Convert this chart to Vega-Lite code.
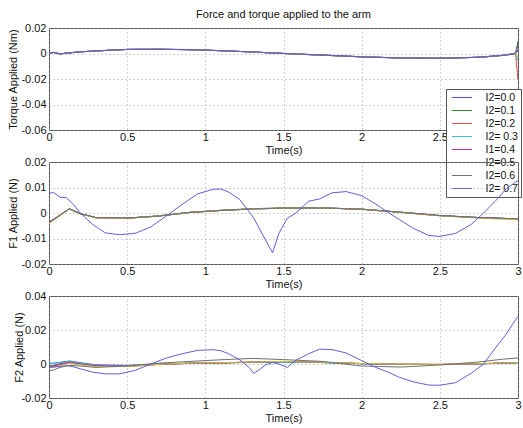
{
"$schema": "https://vega.github.io/schema/vega-lite/v6.json",
"padding": {"left": 6, "top": 8, "right": 4, "bottom": 0},
"background": "white",
"data": {"values": [
{"t":0,"s":"I2=0.0","tq":0,"f1":-0.004,"f2":0.0005},
{"t":0.03,"s":"I2=0.0","tq":0.0008,"f1":-0.0027,"f2":0.0005},
{"t":0.07,"s":"I2=0.0","tq":-0.0003,"f1":-0.001,"f2":0.001},
{"t":0.13,"s":"I2=0.0","tq":0.0005,"f1":0.0016,"f2":0.0018},
{"t":0.2,"s":"I2=0.0","tq":0.0013,"f1":-0.0003,"f2":0.0008},
{"t":0.3,"s":"I2=0.0","tq":0.002,"f1":-0.0018,"f2":-0.0005},
{"t":0.5,"s":"I2=0.0","tq":0.0032,"f1":-0.002,"f2":-0.0008},
{"t":0.7,"s":"I2=0.0","tq":0.0033,"f1":-0.0012,"f2":0},
{"t":0.9,"s":"I2=0.0","tq":0.003,"f1":0.0002,"f2":0.0005},
{"t":1.1,"s":"I2=0.0","tq":0.0022,"f1":0.001,"f2":0.0007},
{"t":1.3,"s":"I2=0.0","tq":0.0012,"f1":0.0016,"f2":0.0009},
{"t":1.5,"s":"I2=0.0","tq":0,"f1":0.0019,"f2":0.0012},
{"t":1.75,"s":"I2=0.0","tq":-0.0013,"f1":0.002,"f2":0.0008},
{"t":2.0,"s":"I2=0.0","tq":-0.0026,"f1":0.0015,"f2":0.0002},
{"t":2.25,"s":"I2=0.0","tq":-0.0035,"f1":0.0003,"f2":-0.0002},
{"t":2.5,"s":"I2=0.0","tq":-0.0037,"f1":-0.001,"f2":-0.0003},
{"t":2.75,"s":"I2=0.0","tq":-0.003,"f1":-0.0018,"f2":0.0001},
{"t":2.9,"s":"I2=0.0","tq":-0.0015,"f1":-0.0021,"f2":0.0005},
{"t":2.985,"s":"I2=0.0","tq":0,"f1":-0.0023,"f2":0.0007},
{"t":3.0,"s":"I2=0.0","tq":0.003,"f1":-0.0024,"f2":0.0008},

{"t":0,"s":"I2=0.1","tq":0,"f1":-0.0038,"f2":-0.001},
{"t":0.03,"s":"I2=0.1","tq":0.0008,"f1":-0.0026,"f2":-0.0008},
{"t":0.07,"s":"I2=0.1","tq":-0.0003,"f1":-0.0009,"f2":0.0002},
{"t":0.13,"s":"I2=0.1","tq":0.0005,"f1":0.0017,"f2":0.0012},
{"t":0.2,"s":"I2=0.1","tq":0.0013,"f1":-0.0002,"f2":0.0003},
{"t":0.3,"s":"I2=0.1","tq":0.002,"f1":-0.0018,"f2":-0.001},
{"t":0.5,"s":"I2=0.1","tq":0.0032,"f1":-0.002,"f2":-0.0012},
{"t":0.7,"s":"I2=0.1","tq":0.0033,"f1":-0.0011,"f2":-0.0002},
{"t":0.9,"s":"I2=0.1","tq":0.003,"f1":0.0003,"f2":0.0004},
{"t":1.1,"s":"I2=0.1","tq":0.0022,"f1":0.0011,"f2":0.0006},
{"t":1.3,"s":"I2=0.1","tq":0.0012,"f1":0.0017,"f2":0.001},
{"t":1.5,"s":"I2=0.1","tq":0,"f1":0.002,"f2":0.0013},
{"t":1.75,"s":"I2=0.1","tq":-0.0013,"f1":0.002,"f2":0.0009},
{"t":2.0,"s":"I2=0.1","tq":-0.0026,"f1":0.0015,"f2":0.0002},
{"t":2.25,"s":"I2=0.1","tq":-0.0035,"f1":0.0003,"f2":-0.0002},
{"t":2.5,"s":"I2=0.1","tq":-0.0037,"f1":-0.001,"f2":-0.0003},
{"t":2.75,"s":"I2=0.1","tq":-0.003,"f1":-0.0018,"f2":0.0001},
{"t":2.9,"s":"I2=0.1","tq":-0.0015,"f1":-0.0021,"f2":0.0005},
{"t":2.985,"s":"I2=0.1","tq":0.0002,"f1":-0.0023,"f2":0.0007},
{"t":3.0,"s":"I2=0.1","tq":0.01,"f1":-0.0024,"f2":0.0008},

{"t":0,"s":"I2=0.2","tq":0,"f1":-0.0036,"f2":-0.002},
{"t":0.03,"s":"I2=0.2","tq":0.0009,"f1":-0.0025,"f2":-0.0015},
{"t":0.07,"s":"I2=0.2","tq":-0.0002,"f1":-0.0008,"f2":-0.0005},
{"t":0.13,"s":"I2=0.2","tq":0.0005,"f1":0.0016,"f2":0.0008},
{"t":0.2,"s":"I2=0.2","tq":0.0013,"f1":-0.0003,"f2":0},
{"t":0.3,"s":"I2=0.2","tq":0.002,"f1":-0.0019,"f2":-0.0012},
{"t":0.5,"s":"I2=0.2","tq":0.0032,"f1":-0.0021,"f2":-0.0015},
{"t":0.7,"s":"I2=0.2","tq":0.0033,"f1":-0.0012,"f2":-0.0003},
{"t":0.9,"s":"I2=0.2","tq":0.003,"f1":0.0002,"f2":0.0003},
{"t":1.1,"s":"I2=0.2","tq":0.0022,"f1":0.001,"f2":0.0006},
{"t":1.3,"s":"I2=0.2","tq":0.0012,"f1":0.0016,"f2":0.0012},
{"t":1.5,"s":"I2=0.2","tq":0,"f1":0.0019,"f2":0.0015},
{"t":1.75,"s":"I2=0.2","tq":-0.0013,"f1":0.002,"f2":0.001},
{"t":2.0,"s":"I2=0.2","tq":-0.0026,"f1":0.0014,"f2":0.0003},
{"t":2.25,"s":"I2=0.2","tq":-0.0035,"f1":0.0002,"f2":-0.0001},
{"t":2.5,"s":"I2=0.2","tq":-0.0037,"f1":-0.0011,"f2":-0.0002},
{"t":2.75,"s":"I2=0.2","tq":-0.003,"f1":-0.0019,"f2":0.0002},
{"t":2.9,"s":"I2=0.2","tq":-0.0015,"f1":-0.0022,"f2":0.0006},
{"t":2.985,"s":"I2=0.2","tq":-0.0005,"f1":-0.0023,"f2":0.0008},
{"t":3.0,"s":"I2=0.2","tq":-0.021,"f1":-0.0025,"f2":0.0009},

{"t":0,"s":"I2= 0.3","tq":0,"f1":-0.0035,"f2":0},
{"t":0.03,"s":"I2= 0.3","tq":0.0008,"f1":-0.0025,"f2":0.0003},
{"t":0.07,"s":"I2= 0.3","tq":-0.0003,"f1":-0.0008,"f2":0.0008},
{"t":0.13,"s":"I2= 0.3","tq":0.0005,"f1":0.0017,"f2":0.0015},
{"t":0.2,"s":"I2= 0.3","tq":0.0013,"f1":-0.0002,"f2":0.0005},
{"t":0.3,"s":"I2= 0.3","tq":0.002,"f1":-0.0018,"f2":-0.0008},
{"t":0.5,"s":"I2= 0.3","tq":0.0032,"f1":-0.002,"f2":-0.001},
{"t":0.7,"s":"I2= 0.3","tq":0.0033,"f1":-0.0012,"f2":0},
{"t":0.9,"s":"I2= 0.3","tq":0.003,"f1":0.0002,"f2":0.0005},
{"t":1.1,"s":"I2= 0.3","tq":0.0022,"f1":0.001,"f2":0.0008},
{"t":1.3,"s":"I2= 0.3","tq":0.0012,"f1":0.0016,"f2":0.001},
{"t":1.5,"s":"I2= 0.3","tq":0,"f1":0.0019,"f2":0.0012},
{"t":1.75,"s":"I2= 0.3","tq":-0.0013,"f1":0.002,"f2":0.0008},
{"t":2.0,"s":"I2= 0.3","tq":-0.0026,"f1":0.0015,"f2":0.0002},
{"t":2.25,"s":"I2= 0.3","tq":-0.0035,"f1":0.0003,"f2":-0.0002},
{"t":2.5,"s":"I2= 0.3","tq":-0.0037,"f1":-0.001,"f2":-0.0003},
{"t":2.75,"s":"I2= 0.3","tq":-0.003,"f1":-0.0018,"f2":0.0001},
{"t":2.9,"s":"I2= 0.3","tq":-0.0015,"f1":-0.0021,"f2":0.0005},
{"t":2.985,"s":"I2= 0.3","tq":-0.0002,"f1":-0.0023,"f2":0.0007},
{"t":3.0,"s":"I2= 0.3","tq":-0.006,"f1":-0.0024,"f2":0.0008},

{"t":0,"s":"I1=0.4","tq":0,"f1":-0.0034,"f2":-0.0015},
{"t":0.03,"s":"I1=0.4","tq":0.0008,"f1":-0.0024,"f2":-0.001},
{"t":0.07,"s":"I1=0.4","tq":-0.0003,"f1":-0.0008,"f2":0},
{"t":0.13,"s":"I1=0.4","tq":0.0005,"f1":0.0016,"f2":0.001},
{"t":0.2,"s":"I1=0.4","tq":0.0013,"f1":-0.0003,"f2":0},
{"t":0.3,"s":"I1=0.4","tq":0.002,"f1":-0.0018,"f2":-0.001},
{"t":0.5,"s":"I1=0.4","tq":0.0032,"f1":-0.002,"f2":-0.0012},
{"t":0.7,"s":"I1=0.4","tq":0.0033,"f1":-0.0012,"f2":-0.0002},
{"t":0.9,"s":"I1=0.4","tq":0.003,"f1":0.0002,"f2":0.0004},
{"t":1.1,"s":"I1=0.4","tq":0.0022,"f1":0.001,"f2":0.0007},
{"t":1.3,"s":"I1=0.4","tq":0.0012,"f1":0.0016,"f2":0.0011},
{"t":1.5,"s":"I1=0.4","tq":0,"f1":0.0019,"f2":0.0014},
{"t":1.75,"s":"I1=0.4","tq":-0.0013,"f1":0.002,"f2":0.001},
{"t":2.0,"s":"I1=0.4","tq":-0.0026,"f1":0.0015,"f2":0.0002},
{"t":2.25,"s":"I1=0.4","tq":-0.0035,"f1":0.0003,"f2":-0.0002},
{"t":2.5,"s":"I1=0.4","tq":-0.0037,"f1":-0.001,"f2":-0.0003},
{"t":2.75,"s":"I1=0.4","tq":-0.003,"f1":-0.0018,"f2":0.0001},
{"t":2.9,"s":"I1=0.4","tq":-0.0015,"f1":-0.0021,"f2":0.0005},
{"t":2.985,"s":"I1=0.4","tq":0,"f1":-0.0023,"f2":0.0007},
{"t":3.0,"s":"I1=0.4","tq":0.006,"f1":-0.0024,"f2":0.0008},

{"t":0,"s":"I2=0.5","tq":0,"f1":-0.0041,"f2":-0.0025},
{"t":0.03,"s":"I2=0.5","tq":0.0008,"f1":-0.0028,"f2":-0.002},
{"t":0.07,"s":"I2=0.5","tq":-0.0003,"f1":-0.0011,"f2":-0.001},
{"t":0.13,"s":"I2=0.5","tq":0.0005,"f1":0.0015,"f2":0.0003},
{"t":0.2,"s":"I2=0.5","tq":0.0013,"f1":-0.0004,"f2":-0.0005},
{"t":0.3,"s":"I2=0.5","tq":0.002,"f1":-0.0019,"f2":-0.0015},
{"t":0.5,"s":"I2=0.5","tq":0.0032,"f1":-0.0021,"f2":-0.0015},
{"t":0.7,"s":"I2=0.5","tq":0.0033,"f1":-0.0012,"f2":-0.0002},
{"t":0.9,"s":"I2=0.5","tq":0.003,"f1":0.0002,"f2":0.0005},
{"t":1.1,"s":"I2=0.5","tq":0.0022,"f1":0.001,"f2":0.0008},
{"t":1.3,"s":"I2=0.5","tq":0.0012,"f1":0.0016,"f2":0.0012},
{"t":1.5,"s":"I2=0.5","tq":0,"f1":0.0019,"f2":0.0015},
{"t":1.75,"s":"I2=0.5","tq":-0.0013,"f1":0.002,"f2":0.001},
{"t":2.0,"s":"I2=0.5","tq":-0.0026,"f1":0.0015,"f2":0.0003},
{"t":2.25,"s":"I2=0.5","tq":-0.0035,"f1":0.0002,"f2":-0.0001},
{"t":2.5,"s":"I2=0.5","tq":-0.0037,"f1":-0.0011,"f2":-0.0002},
{"t":2.75,"s":"I2=0.5","tq":-0.003,"f1":-0.002,"f2":0.0002},
{"t":2.9,"s":"I2=0.5","tq":-0.0015,"f1":-0.0024,"f2":0.0006},
{"t":2.985,"s":"I2=0.5","tq":-0.0001,"f1":-0.0026,"f2":0.0008},
{"t":3.0,"s":"I2=0.5","tq":-0.003,"f1":-0.0027,"f2":0.0009},

{"t":0,"s":"I2=0.6","tq":0,"f1":-0.0037,"f2":-0.004},
{"t":0.03,"s":"I2=0.6","tq":0.0008,"f1":-0.0026,"f2":-0.0035},
{"t":0.07,"s":"I2=0.6","tq":-0.0003,"f1":-0.0009,"f2":-0.002},
{"t":0.13,"s":"I2=0.6","tq":0.0005,"f1":0.0016,"f2":-0.0008},
{"t":0.2,"s":"I2=0.6","tq":0.0013,"f1":-0.0003,"f2":-0.0012},
{"t":0.3,"s":"I2=0.6","tq":0.002,"f1":-0.0018,"f2":-0.002},
{"t":0.5,"s":"I2=0.6","tq":0.0032,"f1":-0.002,"f2":-0.0012},
{"t":0.7,"s":"I2=0.6","tq":0.0033,"f1":-0.0012,"f2":0.0005},
{"t":0.9,"s":"I2=0.6","tq":0.003,"f1":0.0002,"f2":0.0015},
{"t":1.1,"s":"I2=0.6","tq":0.0022,"f1":0.001,"f2":0.0025},
{"t":1.3,"s":"I2=0.6","tq":0.0012,"f1":0.0016,"f2":0.0033},
{"t":1.5,"s":"I2=0.6","tq":0,"f1":0.0019,"f2":0.0026},
{"t":1.75,"s":"I2=0.6","tq":-0.0013,"f1":0.002,"f2":0.0015},
{"t":2.0,"s":"I2=0.6","tq":-0.0026,"f1":0.0015,"f2":-0.0012},
{"t":2.25,"s":"I2=0.6","tq":-0.0035,"f1":0.0003,"f2":-0.0018},
{"t":2.5,"s":"I2=0.6","tq":-0.0037,"f1":-0.001,"f2":-0.0006},
{"t":2.75,"s":"I2=0.6","tq":-0.003,"f1":-0.0018,"f2":0.0012},
{"t":2.9,"s":"I2=0.6","tq":-0.0015,"f1":-0.0021,"f2":0.0028},
{"t":2.985,"s":"I2=0.6","tq":0.0001,"f1":-0.0023,"f2":0.0035},
{"t":3.0,"s":"I2=0.6","tq":0.008,"f1":-0.0024,"f2":0.0036},

{"t":0,"s":"I2= 0.7","tq":0,"f1":0.0078,"f2":-0.002},
{"t":0.03,"s":"I2= 0.7","tq":0.0008,"f1":0.008,"f2":-0.0018},
{"t":0.07,"s":"I2= 0.7","tq":-0.0003,"f1":0.0062,"f2":-0.0014},
{"t":0.11,"s":"I2= 0.7","tq":0.0003,"f1":0.006,"f2":-0.001},
{"t":0.15,"s":"I2= 0.7","tq":0.0008,"f1":0.0038,"f2":-0.0015},
{"t":0.2,"s":"I2= 0.7","tq":0.0013,"f1":0,"f2":-0.0028},
{"t":0.28,"s":"I2= 0.7","tq":0.0019,"f1":-0.0045,"f2":-0.0048},
{"t":0.36,"s":"I2= 0.7","tq":0.0024,"f1":-0.0078,"f2":-0.0058},
{"t":0.45,"s":"I2= 0.7","tq":0.003,"f1":-0.0085,"f2":-0.0058},
{"t":0.55,"s":"I2= 0.7","tq":0.0033,"f1":-0.008,"f2":-0.0038},
{"t":0.65,"s":"I2= 0.7","tq":0.0033,"f1":-0.0055,"f2":0},
{"t":0.75,"s":"I2= 0.7","tq":0.0033,"f1":-0.0012,"f2":0.0035},
{"t":0.85,"s":"I2= 0.7","tq":0.0032,"f1":0.0033,"f2":0.006},
{"t":0.95,"s":"I2= 0.7","tq":0.0029,"f1":0.0075,"f2":0.008},
{"t":1.05,"s":"I2= 0.7","tq":0.0025,"f1":0.0093,"f2":0.0084},
{"t":1.1,"s":"I2= 0.7","tq":0.0022,"f1":0.0094,"f2":0.0078},
{"t":1.15,"s":"I2= 0.7","tq":0.002,"f1":0.0082,"f2":0.006},
{"t":1.22,"s":"I2= 0.7","tq":0.0016,"f1":0.0053,"f2":0.0025},
{"t":1.28,"s":"I2= 0.7","tq":0.0013,"f1":0.0005,"f2":-0.002},
{"t":1.31,"s":"I2= 0.7","tq":0.0011,"f1":-0.002,"f2":-0.0055},
{"t":1.35,"s":"I2= 0.7","tq":0.0009,"f1":-0.0066,"f2":-0.003},
{"t":1.385,"s":"I2= 0.7","tq":0.0007,"f1":-0.0106,"f2":-0.0005},
{"t":1.43,"s":"I2= 0.7","tq":0.0005,"f1":-0.0156,"f2":0.0008},
{"t":1.47,"s":"I2= 0.7","tq":0.0003,"f1":-0.008,"f2":0},
{"t":1.525,"s":"I2= 0.7","tq":0,"f1":-0.002,"f2":-0.002},
{"t":1.58,"s":"I2= 0.7","tq":-0.0003,"f1":0,"f2":0.0022},
{"t":1.66,"s":"I2= 0.7","tq":-0.0007,"f1":0.0046,"f2":0.006},
{"t":1.73,"s":"I2= 0.7","tq":-0.001,"f1":0.0055,"f2":0.0087},
{"t":1.81,"s":"I2= 0.7","tq":-0.0015,"f1":0.0079,"f2":0.0085},
{"t":1.9,"s":"I2= 0.7","tq":-0.002,"f1":0.0084,"f2":0.0065},
{"t":2.0,"s":"I2= 0.7","tq":-0.0026,"f1":0.0068,"f2":0.002},
{"t":2.09,"s":"I2= 0.7","tq":-0.003,"f1":0.0035,"f2":-0.002},
{"t":2.175,"s":"I2= 0.7","tq":-0.0033,"f1":0,"f2":-0.005},
{"t":2.24,"s":"I2= 0.7","tq":-0.0035,"f1":-0.0025,"f2":-0.0078},
{"t":2.33,"s":"I2= 0.7","tq":-0.0036,"f1":-0.006,"f2":-0.0105},
{"t":2.43,"s":"I2= 0.7","tq":-0.0037,"f1":-0.0088,"f2":-0.0124},
{"t":2.5,"s":"I2= 0.7","tq":-0.0037,"f1":-0.0092,"f2":-0.0125},
{"t":2.6,"s":"I2= 0.7","tq":-0.0035,"f1":-0.008,"f2":-0.011},
{"t":2.7,"s":"I2= 0.7","tq":-0.003,"f1":-0.0045,"f2":-0.0055},
{"t":2.78,"s":"I2= 0.7","tq":-0.0025,"f1":0,"f2":0},
{"t":2.86,"s":"I2= 0.7","tq":-0.0018,"f1":0.005,"f2":0.01},
{"t":2.92,"s":"I2= 0.7","tq":-0.0012,"f1":0.0092,"f2":0.017},
{"t":2.97,"s":"I2= 0.7","tq":-0.0003,"f1":0.0115,"f2":0.024},
{"t":3.0,"s":"I2= 0.7","tq":0.002,"f1":0.0128,"f2":0.028}
]},
"bounds": "flush",
"spacing": 32,
"resolve": {"scale": {"color": "independent"}, "legend": {"color": "independent"}},
"vconcat": [
{
"width": 469, "height": 102,
"title": {"text": "Force and torque applied to the arm", "frame": "group", "anchor": "middle", "fontSize": 11, "fontWeight": "normal", "font": "Liberation Sans", "color": "#111", "offset": 2},
"mark": {"type": "line", "clip": true, "strokeWidth": 1},
"encoding": {
"x": {"field": "t", "type": "quantitative", "scale": {"domain": [0, 3], "nice": false}, "axis": {"values": [0, 0.5, 1, 1.5, 2, 2.5, 3], "format": "~g", "title": "Time(s)"}},
"y": {"field": "tq", "type": "quantitative", "scale": {"domain": [-0.06, 0.02], "nice": false, "zero": false}, "axis": {"values": [-0.06, -0.04, -0.02, 0, 0.02], "format": "~g", "labelExpr": "replace(datum.label, '\u2212', '-')", "title": "Torque Applied (Nm)", "titleX": -31}},
"color": {"field": "s", "type": "nominal", "scale": {"domain": ["I2=0.0", "I2=0.1", "I2=0.2", "I2= 0.3", "I1=0.4", "I2=0.5", "I2=0.6", "I2= 0.7"], "range": ["#5050d8", "#2e8b2e", "#e84848", "#30c8c8", "#b830b8", "#c8c830", "#707070", "#6060d8"]},
"legend": {"orient": "none", "legendX": 397, "legendY": 61, "title": null, "symbolType": "M-2,0H2", "symbolSize": 100, "symbolStrokeWidth": 1, "symbolOffset": 7.5, "labelFontSize": 10.5, "labelFont": "Liberation Sans", "labelColor": "#111", "fillColor": "white", "strokeColor": "#555", "padding": 3, "rowPadding": 2, "labelOffset": 18, "cornerRadius": 0}}
}
},
{
"width": 469, "height": 102,
"mark": {"type": "line", "clip": true, "strokeWidth": 1},
"encoding": {
"x": {"field": "t", "type": "quantitative", "scale": {"domain": [0, 3], "nice": false}, "axis": {"values": [0, 0.5, 1, 1.5, 2, 2.5, 3], "format": "~g", "title": "Time(s)"}},
"y": {"field": "f1", "type": "quantitative", "scale": {"domain": [-0.02, 0.02], "nice": false, "zero": false}, "axis": {"values": [-0.02, -0.01, 0, 0.01, 0.02], "format": "~g", "labelExpr": "replace(datum.label, '\u2212', '-')", "title": "F1 Applied (N)", "titleX": -31}},
"color": {"field": "s", "type": "nominal", "scale": {"domain": ["I2=0.0", "I2=0.1", "I2=0.2", "I2= 0.3", "I1=0.4", "I2=0.5", "I2=0.6", "I2= 0.7"], "range": ["#5050d8", "#2e8b2e", "#e84848", "#30c8c8", "#b830b8", "#c8c830", "#707070", "#6060d8"]}, "legend": null}
}
},
{
"width": 469, "height": 102,
"mark": {"type": "line", "clip": true, "strokeWidth": 1},
"encoding": {
"x": {"field": "t", "type": "quantitative", "scale": {"domain": [0, 3], "nice": false}, "axis": {"values": [0, 0.5, 1, 1.5, 2, 2.5, 3], "format": "~g", "title": "Time(s)"}},
"y": {"field": "f2", "type": "quantitative", "scale": {"domain": [-0.02, 0.04], "nice": false, "zero": false}, "axis": {"values": [-0.02, 0, 0.02, 0.04], "format": "~g", "labelExpr": "replace(datum.label, '\u2212', '-')", "title": "F2 Applied (N)", "titleX": -25}},
"color": {"field": "s", "type": "nominal", "scale": {"domain": ["I2=0.0", "I2=0.1", "I2=0.2", "I2= 0.3", "I1=0.4", "I2=0.5", "I2=0.6", "I2= 0.7"], "range": ["#5050d8", "#2e8b2e", "#e84848", "#30c8c8", "#b830b8", "#c8c830", "#707070", "#6060d8"]}, "legend": null}
}
}
],
"config": {
"font": "Liberation Sans",
"view": {"stroke": "#555", "strokeWidth": 1},
"axis": {"grid": true, "gridDash": [1, 3], "gridColor": "#999", "gridOpacity": 0.9, "domain": false, "ticks": false, "labelFontSize": 11, "labelColor": "#111", "labelFont": "Liberation Sans", "titleFont": "Liberation Sans", "titleFontSize": 11, "titleFontWeight": "normal", "titleColor": "#111", "labelPadding": 1},
"axisX": {"labelFlush": false, "titlePadding": 2},
"axisY": {"titlePadding": 3, "labelPadding": 3}
}
}
